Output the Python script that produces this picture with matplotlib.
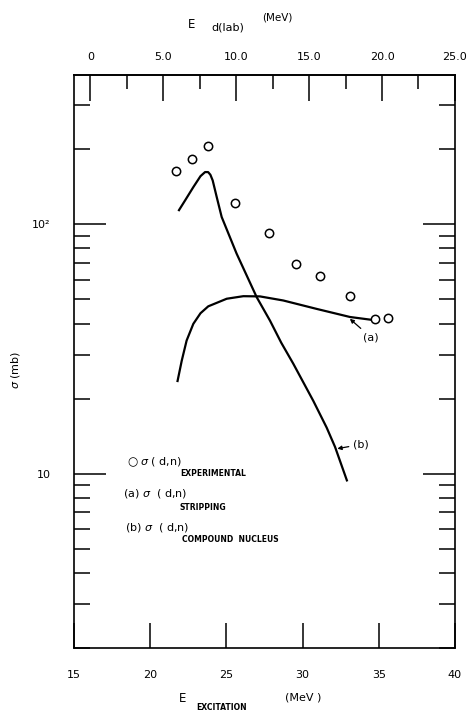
import matplotlib
matplotlib.use("Agg")
import matplotlib.pyplot as plt
from matplotlib.ticker import FixedLocator, NullFormatter, FixedFormatter

plt.rcParams['font.family'] = ['DejaVu Sans']

# ---- data ----
exp_x = [21.69, 22.76, 23.81, 25.56, 27.82, 29.55, 31.16, 33.09, 34.77, 35.60]
exp_y = [164, 182, 206, 122, 92.6, 69.5, 62.2, 51.5, 41.9, 42.0]

strip_x = [21.78, 22.07, 22.39, 22.83, 23.30, 23.81, 25.02, 26.11, 27.20, 28.73, 30.92, 33.11, 34.53]
strip_y = [23.3, 28.4, 34.2, 39.9, 44.0, 46.9, 50.3, 51.5, 51.4, 49.5, 45.8, 42.5, 41.4]

comp_x = [21.85, 22.30, 22.83, 23.30, 23.60, 23.80, 23.95, 24.10, 24.36, 24.69, 25.67, 26.99, 27.86,
          28.60, 29.39, 30.70, 31.58, 32.13, 32.93]
comp_y = [113, 125, 141, 156, 162, 162, 158, 150, 129, 107, 76.3, 51, 41.1,
          33.5, 27.6, 19.6, 15.3, 12.8, 9.31]

bottom_ticks = [15, 20, 25, 30, 35, 40]
bottom_labels = ["15", "20", "25", "30", "35", "40"]
top_ticks = [0, 5, 10, 15, 20, 25]
top_labels = ["0", "5.0", "10.0", "15.0", "20.0", "25.0"]
top_minor = [2.5, 7.5, 12.5, 17.5, 22.5]
y_major = [10, 100]
y_major_labels = ["10", "10\u00b2"]
y_minor = [2, 3, 4, 5, 6, 7, 8, 9, 20, 30, 40, 50, 60, 70, 80, 90, 200, 300]

W, H = 467, 711
fig = plt.figure(figsize=(W / 100, H / 100), dpi=100)
ax = fig.add_axes([74 / W, 1 - 648 / H, (455 - 74) / W, (648 - 75) / H])

ax.set_yscale('log')
ax.set_xlim(15, 40)
ax.set_ylim(2, 397)

lw = 1.6
ax.plot(comp_x, comp_y, color='black', lw=lw, solid_capstyle='butt')
ax.plot(strip_x, strip_y, color='black', lw=lw, solid_capstyle='butt')
ax.plot(exp_x, exp_y, 'o', mfc='white', mec='black', ms=6, mew=1.1, ls='none')

for s in ax.spines.values():
    s.set_linewidth(1.2)

# y ticks
ax.yaxis.set_major_locator(FixedLocator(y_major))
ax.yaxis.set_major_formatter(FixedFormatter(y_major_labels))
ax.yaxis.set_minor_locator(FixedLocator(y_minor))
ax.yaxis.set_minor_formatter(NullFormatter())
ax.tick_params(axis='y', which='major', direction='in', length=23, width=1.1,
               left=True, right=True, labelright=False, labelsize=8, pad=17)
ax.tick_params(axis='y', which='minor', direction='in', length=11.5, width=1.1,
               left=True, right=True)

# bottom x ticks
ax.set_xticks(bottom_ticks)
ax.set_xticklabels(bottom_labels)
ax.tick_params(axis='x', which='major', direction='in', length=18, width=1.1,
               labelsize=8, pad=16, top=False)
ax.xaxis.set_minor_locator(FixedLocator([]))

# top axis (deuteron lab energy)
def fwd(e):
    return (e - 16.08) / 0.9566

def inv(d):
    return 16.08 + 0.9566 * d

top = ax.secondary_xaxis('top', functions=(fwd, inv))
top.set_xticks(top_ticks)
top.set_xticklabels(top_labels)
top.xaxis.set_minor_locator(FixedLocator(top_minor))
top.tick_params(which='major', direction='in', length=19, width=1.1, labelsize=8, pad=9)
top.tick_params(which='minor', direction='in', length=10, width=1.1)
top.spines['top'].set_linewidth(1.2)

# axis titles
def fx(px):
    return px / W

def fy(py):
    return 1 - py / H

fig.text(fx(192), fy(24), "E", fontsize=8.5, ha='center', va='center')
fig.text(fx(228), fy(28), "d(lab)", fontsize=8, ha='center', va='center')
fig.text(fx(277), fy(17), "(MeV)", fontsize=7.5, ha='center', va='center')

fig.text(fx(183), fy(698), "E", fontsize=8.5, ha='center', va='center')
fig.text(fx(222), fy(708), "EXCITATION", fontsize=5.5, fontweight='bold', ha='center', va='center')
fig.text(fx(303), fy(697), "(MeV )", fontsize=8, ha='center', va='center')

fig.text(fx(16), fy(370), r"$\sigma$ (mb)", fontsize=8, rotation=90, ha='center', va='center')

# legend block
fig.text(fx(127), fy(462), "\u25cb", fontsize=8.5, ha='left', va='center')
fig.text(fx(140), fy(462), r"$\sigma$ ( d,n)", fontsize=8, ha='left', va='center')
fig.text(fx(180), fy(474), "EXPERIMENTAL", fontsize=5.5, fontweight='bold', ha='left', va='center')
fig.text(fx(123), fy(494), r"(a) $\sigma$  ( d,n)", fontsize=8, ha='left', va='center')
fig.text(fx(180), fy(507), "STRIPPING", fontsize=5.5, fontweight='bold', ha='left', va='center')
fig.text(fx(125), fy(528), r"(b) $\sigma$  ( d,n)", fontsize=8, ha='left', va='center')
fig.text(fx(182), fy(540), "COMPOUND  NUCLEUS", fontsize=5.5, fontweight='bold', ha='left', va='center')

# curve annotations
ax.annotate("(a)", xy=(33.1, 41.8), xytext=(33.95, 35.3), fontsize=8,
            ha='left', va='center',
            arrowprops=dict(arrowstyle='-|>', color='black', lw=0.9,
                            mutation_scale=6, shrinkA=1, shrinkB=0))
ax.annotate("(b)", xy=(32.28, 12.6), xytext=(33.3, 13.1), fontsize=8,
            ha='left', va='center',
            arrowprops=dict(arrowstyle='-|>', color='black', lw=0.9,
                            mutation_scale=6, shrinkA=1, shrinkB=0))

fig.savefig("out.png", dpi=100)
